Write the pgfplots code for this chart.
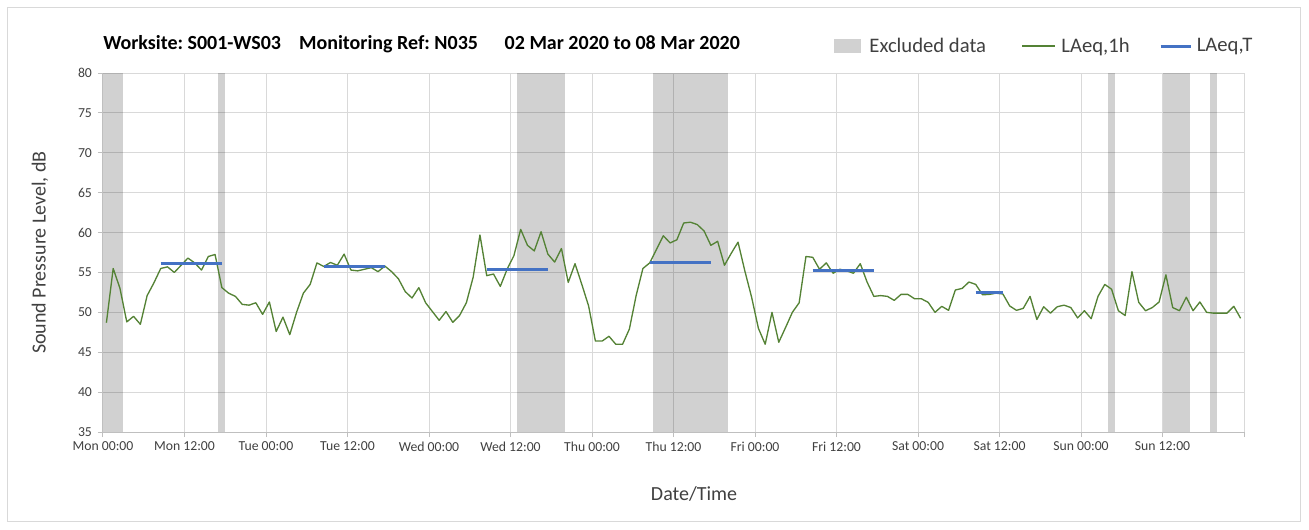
\documentclass[border=0pt]{standalone}
\usepackage{pgfplots}
\pgfplotsset{compat=1.18}
\usepackage{fontspec}
\setmainfont{Carlito}
\frenchspacing
\definecolor{lgreen}{RGB}{84,130,53}
\definecolor{lblue}{RGB}{68,114,196}
\definecolor{gridc}{RGB}{217,217,217}
\definecolor{axc}{RGB}{191,191,191}
\definecolor{txt}{RGB}{64,64,64}
\pgfplotstableread{
x y
0.5 48.7
1.5 55.5
2.5 53.0
3.5 48.8
4.5 49.5
5.5 48.5
6.5 52.1
7.5 53.7
8.5 55.5
9.5 55.7
10.5 55.0
11.5 55.9
12.5 56.8
13.5 56.2
14.5 55.3
15.5 57.0
16.5 57.25
17.5 53.1
18.5 52.4
19.5 52.0
20.5 51.0
21.5 50.9
22.5 51.2
23.5 49.75
24.5 51.3
25.5 47.6
26.5 49.4
27.5 47.2
28.5 50.0
29.5 52.4
30.5 53.5
31.5 56.2
32.5 55.75
33.5 56.25
34.5 55.9
35.5 57.3
36.5 55.3
37.5 55.2
38.5 55.4
39.5 55.6
40.5 55.1
41.5 55.8
42.5 55.1
43.5 54.2
44.5 52.6
45.5 51.8
46.5 53.1
47.5 51.2
48.5 50.1
49.5 49.0
50.5 50.1
51.5 48.75
52.5 49.6
53.5 51.2
54.5 54.4
55.5 59.7
56.5 54.6
57.5 54.8
58.5 53.25
59.5 55.4
60.5 57.1
61.5 60.4
62.5 58.4
63.5 57.7
64.5 60.1
65.5 57.3
66.5 56.3
67.5 58.0
68.5 53.75
69.5 56.1
70.5 53.5
71.5 50.8
72.5 46.4
73.5 46.4
74.5 47.0
75.5 46.0
76.5 46.0
77.5 47.9
78.5 52.1
79.5 55.5
80.5 56.2
81.5 57.9
82.5 59.6
83.5 58.7
84.5 59.1
85.5 61.2
86.5 61.3
87.5 61.0
88.5 60.2
89.5 58.4
90.5 58.9
91.5 55.9
92.5 57.4
93.5 58.8
94.5 55.2
95.5 51.9
96.5 48.0
97.5 46.0
98.5 50.0
99.5 46.25
100.5 48.1
101.5 50.0
102.5 51.2
103.5 57.0
104.5 56.9
105.5 55.4
106.5 56.2
107.5 54.9
108.5 55.4
109.5 55.2
110.5 54.9
111.5 56.1
112.5 53.8
113.5 52.0
114.5 52.1
115.5 52.0
116.5 51.5
117.5 52.25
118.5 52.25
119.5 51.7
120.5 51.7
121.5 51.25
122.5 50.0
123.5 50.75
124.5 50.25
125.5 52.8
126.5 53.0
127.5 53.8
128.5 53.5
129.5 52.2
130.5 52.25
131.5 52.4
132.5 52.3
133.5 50.8
134.5 50.25
135.5 50.5
136.5 52.0
137.5 49.1
138.5 50.7
139.5 49.9
140.5 50.7
141.5 50.9
142.5 50.6
143.5 49.3
144.5 50.2
145.5 49.2
146.5 52.0
147.5 53.5
148.5 52.9
149.5 50.2
150.5 49.6
151.5 55.1
152.5 51.25
153.5 50.2
154.5 50.6
155.5 51.3
156.5 54.7
157.5 50.6
158.5 50.2
159.5 51.9
160.5 50.2
161.5 51.3
162.5 50.0
163.5 49.9
164.5 49.9
165.5 49.9
166.5 50.75
167.5 49.25
}\hourly
\begin{document}
\begin{tikzpicture}
\begin{axis}[name=ax, at={(0,0)}, anchor=south west,
  scale only axis, width=855.75pt, height=269.25pt,
  xmin=0, xmax=168, ymin=35, ymax=80,
  xtick={0,12,...,168},
  xticklabels={Mon 00:00,Mon 12:00,Tue 00:00,Tue 12:00,Wed 00:00,Wed 12:00,Thu 00:00,Thu 12:00,Fri 00:00,Fri 12:00,Sat 00:00,Sat 12:00,Sun 00:00,Sun 12:00,{}},
  ytick={35,40,...,80},
  /pgf/number format/assume math mode=true,
  grid=major, major grid style={draw=gridc, line width=0.75pt},
  axis lines*=left, axis line style={draw=axc, line width=0.75pt},
  tick align=outside, major tick length=3.75pt, tick style={draw=axc, line width=0.75pt},
  ticklabel style={font=\fontsize{10.3}{12}\selectfont, text=txt},
  yticklabel style={xshift=-1pt},
  xlabel={Date/Time}, ylabel={Sound Pressure Level, dB},
  label style={font=\fontsize{15}{18}\selectfont, text=txt},
  xlabel style={at={(axis description cs:0.518,-0.173)}, anchor=center},
  ylabel style={at={(axis description cs:-0.0552,0.5)}, anchor=center},
  legend columns=3,
  legend style={draw=none, fill=none, at={(0.637,1.075)}, anchor=west,
    font=\fontsize{15.5}{18}\selectfont, text=txt,
    /tikz/every even column/.append style={column sep=18pt}},
  legend cell align=left,
]
\addplot[fill=black, fill opacity=0.18, draw=none,
  legend image code/.code={\fill[black, fill opacity=0.18] (0pt,-5pt) rectangle (20pt,5pt); \path (24.5pt,0pt);}]
  coordinates {(0,35) (0,80) (3,80) (3,35)} -- cycle;
\addlegendentry{\makebox[94pt][l]{Excluded data}}
\addplot[forget plot, fill=black, fill opacity=0.18, draw=none] coordinates {(17,35) (17,80) (18,80) (18,35)} -- cycle;
\addplot[forget plot, fill=black, fill opacity=0.18, draw=none] coordinates {(61,35) (61,80) (68,80) (68,35)} -- cycle;
\addplot[forget plot, fill=black, fill opacity=0.18, draw=none] coordinates {(81,35) (81,80) (92,80) (92,35)} -- cycle;
\addplot[forget plot, fill=black, fill opacity=0.18, draw=none] coordinates {(148,35) (148,80) (149,80) (149,35)} -- cycle;
\addplot[forget plot, fill=black, fill opacity=0.18, draw=none] coordinates {(156,35) (156,80) (160,80) (160,35)} -- cycle;
\addplot[forget plot, fill=black, fill opacity=0.18, draw=none] coordinates {(163,35) (163,80) (164,80) (164,35)} -- cycle;
\addplot[lgreen, line width=1pt, line join=round,
  legend image code/.code={\draw[lgreen, line width=1pt] (0pt,0pt) -- (24.75pt,0pt); \path (27pt,0pt);}]
  table[x=x, y=y] {\hourly};
\addlegendentry{\makebox[53.25pt][l]{LAeq,1h}}
\addplot[lblue, line width=2.25pt, unbounded coords=jump,
  legend image code/.code={\draw[lblue, line width=2.25pt] (0pt,0pt) -- (22.5pt,0pt); \path (24pt,0pt);}]
  coordinates {(8.5,56.1) (17.5,56.1) (20,nan) (32.5,55.8) (41.5,55.8) (44,nan)
   (56.5,55.4) (65.5,55.4) (68,nan) (80.5,56.2) (89.5,56.2) (92,nan)
   (104.5,55.2) (113.5,55.2) (116,nan) (128.5,52.5) (132.5,52.5)};
\addlegendentry{LAeq,T}
\end{axis}
\path (ax.south west) ++(-77.25pt,-72.75pt) rectangle ++(981.75pt,396.75pt);
\draw[gridc, line width=0.75pt] (ax.south west) ++(-71.25pt,-66.75pt) rectangle ++(969pt,384.75pt);
\path (ax.north west) ++(0pt,21.75pt) node[anchor=west, inner xsep=0pt, font=\fontsize{15}{18}\selectfont\bfseries]
  {Worksite: S001-WS03\hspace{13.5pt}Monitoring Ref: N035\hspace{20pt}02 Mar 2020 to 08 Mar 2020};
\end{tikzpicture}
\end{document}
